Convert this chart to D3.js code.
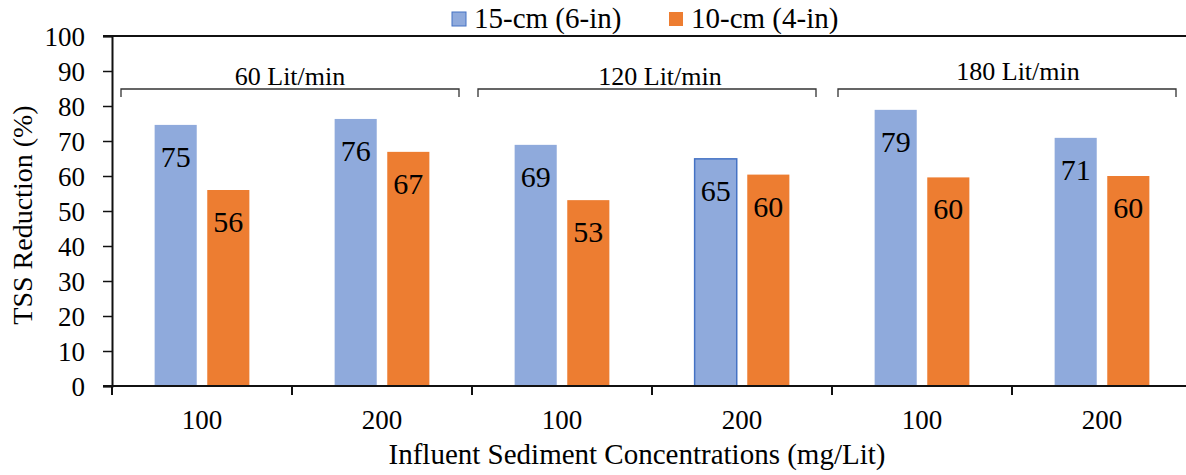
<!DOCTYPE html>
<html>
<head>
<meta charset="utf-8">
<script src="https://d3js.org/d3.v7.min.js"></script>
</head>
<body style="margin:0">
<div id="chart"></div>
<script>
  // data
  const categories = ["100", "200", "100", "200", "100", "200"];
  const seriesNames = ["15-cm (6-in)", "10-cm (4-in)"];
  const large = [74.6, 76.3, 68.9, 64.9, 78.9, 70.9];
  const small = [56.0, 66.9, 53.1, 60.4, 59.6, 60.0];
  const flowGroups = ["60 Lit/min", "120 Lit/min", "180 Lit/min"];
  const yTicks = [0, 10, 20, 30, 40, 50, 60, 70, 80, 90, 100];

  const width = 1186, height = 475;
  const mLeft = 112, mRight = 1192, mTop = 36, mBottom = 386;
  const colors = ["#8FAADC", "#ED7D31"];
  const font = "Liberation Serif";

  const svg = d3.select("#chart").append("svg")
    .attr("width", width)
    .attr("height", height)
    .attr("font-family", font);

  // small helper so every label gets the serif face
  function label(sel, size) {
    return sel.attr("font-family", font).attr("font-size", size).attr("fill", "#000");
  }

  const x = d3.scaleBand().domain(d3.range(categories.length)).range([mLeft, mRight]);
  const y = d3.scaleLinear().domain([0, 100]).range([mBottom, mTop]);
  const inner = d3.scaleBand().domain([0, 1]).range([0, x.bandwidth()]).paddingInner(0.2).paddingOuter(0.81);

  // top frame line at 100
  svg.append("line")
    .attr("x1", mLeft - 9).attr("x2", width)
    .attr("y1", y(100)).attr("y2", y(100))
    .attr("stroke", "#111").attr("stroke-width", 2);

  // bars
  const rows = categories.map((c, i) => ({ i, vals: [large[i], small[i]] }));
  const g = svg.append("g");
  rows.forEach(r => {
    r.vals.forEach((v, s) => {
      const bx = x(r.i) + inner(s);
      g.append("rect")
        .attr("x", bx).attr("y", y(v))
        .attr("width", inner.bandwidth()).attr("height", y(0) - y(v))
        .attr("fill", colors[s])
        .attr("stroke", (r.i === 3 && s === 0) ? "#4472C4" : "none")
        .attr("stroke-width", 1.5);
      label(g.append("text"), 30)
        .attr("x", bx + inner.bandwidth() / 2)
        .attr("y", y(v) + 42)
        .attr("text-anchor", "middle")
        .text(Math.round(v));
    });
  });

  // y axis
  const yAxis = svg.append("g")
    .attr("transform", `translate(${mLeft},0)`)
    .call(d3.axisLeft(y).tickValues(yTicks).tickSize(9).tickPadding(18));
  yAxis.attr("font-family", font);
  yAxis.select(".domain").attr("stroke", "#111").attr("stroke-width", 2);
  yAxis.selectAll(".tick line").attr("stroke", "#111").attr("stroke-width", 1.5);
  label(yAxis.selectAll(".tick text"), 27).attr("dy", "0.34em");

  // x axis with ticks at category boundaries
  const xAxis = svg.append("g").attr("transform", `translate(0,${mBottom})`);
  xAxis.append("line")
    .attr("x1", mLeft - 9).attr("x2", width)
    .attr("stroke", "#111").attr("stroke-width", 2);
  xAxis.selectAll("line.tk")
    .data(d3.range(categories.length + 1))
    .join("line")
    .attr("class", "tk")
    .attr("x1", i => mLeft + i * x.step()).attr("x2", i => mLeft + i * x.step())
    .attr("y1", 0).attr("y2", 9)
    .attr("stroke", "#111").attr("stroke-width", 2);
  label(xAxis.selectAll("text").data(categories).join("text"), 27)
    .attr("x", (d, i) => x(i) + x.bandwidth() / 2)
    .attr("y", 43)
    .attr("text-anchor", "middle")
    .text(d => d);

  // flow group brackets
  const labelShift = [-2, 8, 6];
  const labelRise = [0, 0, 5];
  flowGroups.forEach((name, k) => {
    const x0 = x(k * 2) + (k === 0 ? 9 : 6);
    const x1 = x(k * 2 + 1) + x.bandwidth() - (k === 0 ? 13 : 16);
    const by = 89;
    svg.append("path")
      .attr("d", `M${x0},${by + 8}V${by}H${x1}V${by + 8}`)
      .attr("fill", "none")
      .attr("stroke", "#333")
      .attr("stroke-width", 1.3);
    label(svg.append("text"), 26)
      .attr("x", (x(k * 2) + x(k * 2 + 1) + x.bandwidth()) / 2 + labelShift[k])
      .attr("y", by - 4 - labelRise[k])
      .attr("text-anchor", "middle")
      .text(name);
  });

  // axis titles
  label(svg.append("text"), 28)
    .attr("transform", `translate(32,215) rotate(-90)`)
    .attr("text-anchor", "middle")
    .text("TSS Reduction (%)");
  label(svg.append("text"), 29)
    .attr("x", 637).attr("y", 464)
    .attr("text-anchor", "middle")
    .text("Influent Sediment Concentrations (mg/Lit)");

  // legend
  const legendX = [452, 669];
  seriesNames.forEach((name, s) => {
    svg.append("rect")
      .attr("x", legendX[s]).attr("y", 12)
      .attr("width", 14).attr("height", 14)
      .attr("fill", colors[s])
      .attr("stroke", s === 0 ? "#4472C4" : "none")
      .attr("stroke-width", 1);
    label(svg.append("text"), 29)
      .attr("x", legendX[s] + 22).attr("y", 28)
      .text(name);
  });
</script>
</body>
</html>
